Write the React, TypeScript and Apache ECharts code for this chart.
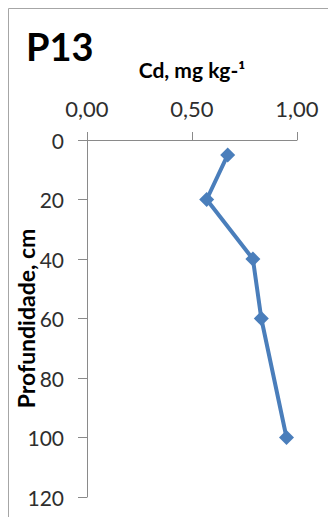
import React, { useEffect, useRef } from "react";
import * as echarts from "echarts";

const depths = [5, 20, 40, 60, 100];
const cdValues = [0.67, 0.57, 0.79, 0.83, 0.95];
const title = "P13";
const xName = "Cd, mg kg-¹";
const yName = "Profundidade, cm";

export default function App() {
  const ref = useRef<HTMLDivElement>(null);
  useEffect(() => {
    if (!ref.current) return;
    const chart = echarts.init(ref.current, null, { renderer: "svg" });
    const font = "Lato, 'Liberation Sans', sans-serif";
    const axisColor = "#8a8a8a";
    const labelColor = "#2e2e2e";
    chart.setOption({
      animation: false,
      backgroundColor: "#ffffff",
      textStyle: { fontFamily: font },
      title: {
        text: title,
        left: 21,
        top: 22,
        textStyle: { fontSize: 38, fontWeight: "bold", color: "#000", fontFamily: font },
      },
      graphic: [
        {
          type: "rect",
          shape: { x: 8.5, y: 8.5, width: 400, height: 600 },
          style: { fill: "none", stroke: "#a6a6a6", lineWidth: 1 },
          silent: true,
        },
      ],
      grid: {
        left: 87,
        top: 140,
        width: 210,
        height: 357,
        containLabel: false,
        outerBoundsMode: "none",
      },
      xAxis: {
        type: "value",
        position: "top",
        min: 0,
        max: 1,
        interval: 0.5,
        name: xName,
        nameLocation: "middle",
        nameGap: 60,
        nameMoveOverlap: false,
        nameTextStyle: { fontSize: 21, fontWeight: "bold", color: "#000", fontFamily: font },
        axisLine: { show: true, lineStyle: { color: axisColor, width: 1 } },
        axisTick: { show: true, length: 8, inside: false, lineStyle: { color: axisColor } },
        splitLine: { show: false },
        axisLabel: {
          fontSize: 22,
          color: labelColor,
          margin: 21,
          fontFamily: font,
          formatter: (v: number) => v.toFixed(2).replace(".", ","),
        },
      },
      yAxis: {
        type: "value",
        inverse: true,
        min: 0,
        max: 120,
        interval: 20,
        name: yName,
        nameLocation: "middle",
        nameGap: 50,
        nameMoveOverlap: false,
        nameTextStyle: { fontSize: 23, fontWeight: "bold", color: "#000", fontFamily: font },
        axisLine: { show: true, lineStyle: { color: axisColor, width: 1 } },
        axisTick: { show: true, length: 9, inside: false, lineStyle: { color: axisColor } },
        splitLine: { show: false },
        axisLabel: { fontSize: 21, color: labelColor, margin: 23, fontFamily: font },
      },
      series: [
        {
          type: "line",
          data: depths.map((d, i) => [cdValues[i], d]),
          symbol: "diamond",
          symbolSize: 15,
          itemStyle: { color: "#4a7ebb" },
          lineStyle: { color: "#4a7ebb", width: 4 },
        },
      ],
    });
    return () => chart.dispose();
  }, []);
  return (
    <div
      ref={ref}
      style={{ position: "fixed", left: 0, top: 0, width: 328, height: 517 }}
    />
  );
}
